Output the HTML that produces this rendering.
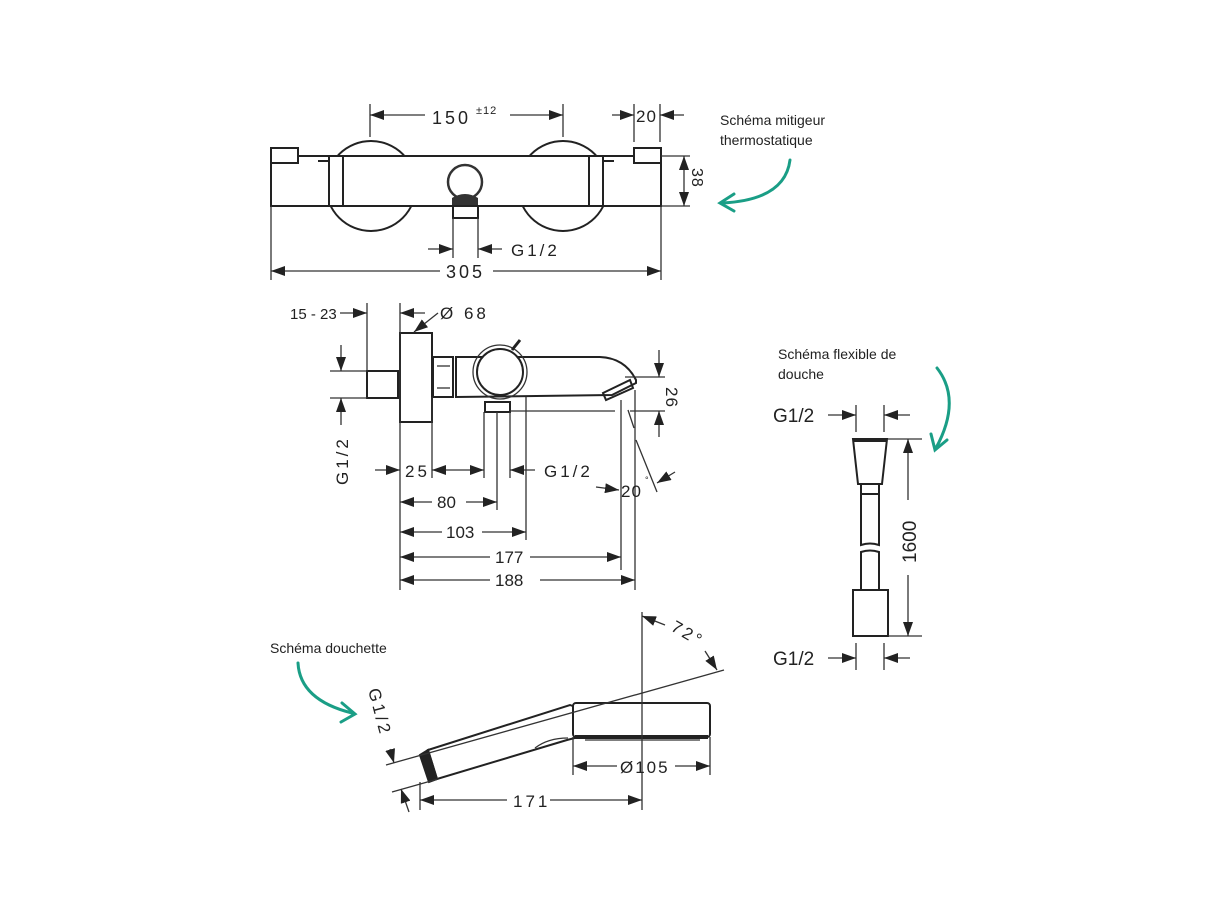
<!DOCTYPE html>
<html><head><meta charset="utf-8"><style>
body{margin:0;background:#fff;}
svg{display:block;font-family:"Liberation Sans",sans-serif;}
.l{stroke:#222;stroke-width:2;fill:none}
.w{stroke:#222;stroke-width:2;fill:#fff}
.t{stroke:#333;stroke-width:1.3;fill:none}
.d{font-size:17px;fill:#222;letter-spacing:3px}
.c{font-size:14px;fill:#222}
.g{stroke:#1a9e86;stroke-width:3;fill:none;stroke-linecap:round}
</style></head><body>
<svg width="1225" height="918" viewBox="0 0 1225 918">
<defs><marker id="a" viewBox="0 0 14 10" refX="14" refY="5" markerWidth="14" markerHeight="10" orient="auto-start-reverse" markerUnits="userSpaceOnUse"><path d="M0,0L14,5L0,10z" fill="#222"/></marker></defs>

<!-- TOP VIEW -->
<circle cx="371" cy="186" r="45" class="l"/><circle cx="563" cy="186" r="45" class="l"/>
<rect x="271" y="156" width="390" height="50" class="w"/>
<rect x="271" y="148" width="27" height="15" class="w"/>
<rect x="634" y="148" width="27" height="15" class="w"/>
<rect x="329" y="156" width="14" height="50" class="l"/><rect x="589" y="156" width="14" height="50" class="l"/>
<line x1="318" y1="161" x2="329" y2="161" class="l"/><line x1="603" y1="161" x2="614" y2="161" class="l"/>
<circle cx="465" cy="182" r="17" class="t" style="stroke-width:2.5"/>
<path d="M452,198 Q465,190 478,198 L478,206 L452,206z" fill="#333"/>
<rect x="453" y="206" width="25" height="12" class="l"/>
<line x1="370" y1="104" x2="370" y2="137" class="t"/><line x1="563" y1="104" x2="563" y2="137" class="t"/>
<line x1="370" y1="115" x2="425" y2="115" class="t" marker-start="url(#a)"/><line x1="510" y1="115" x2="563" y2="115" class="t" marker-end="url(#a)"/>
<text x="432" y="124" class="d" style="font-size:18px">150</text><text x="476" y="114" style="font-size:11px;fill:#222;letter-spacing:1px">±12</text>
<line x1="634" y1="104" x2="634" y2="142" class="t"/><line x1="660" y1="104" x2="660" y2="142" class="t"/>
<line x1="612" y1="115" x2="634" y2="115" class="t" marker-end="url(#a)"/><line x1="684" y1="115" x2="660" y2="115" class="t" marker-end="url(#a)"/>
<text x="636" y="122" class="d" style="letter-spacing:1px">20</text>
<line x1="661" y1="156" x2="690" y2="156" class="t"/><line x1="661" y1="206" x2="690" y2="206" class="t"/>
<line x1="684" y1="156" x2="684" y2="206" class="t" marker-start="url(#a)" marker-end="url(#a)"/>
<text transform="translate(692,168) rotate(90)" class="d" style="letter-spacing:1px;font-size:16px">38</text>
<line x1="271" y1="206" x2="271" y2="280" class="t"/><line x1="661" y1="206" x2="661" y2="280" class="t"/>
<line x1="271" y1="271" x2="440" y2="271" class="t" marker-start="url(#a)"/><line x1="493" y1="271" x2="661" y2="271" class="t" marker-end="url(#a)"/>
<text x="446" y="278" class="d" style="font-size:18px">305</text>
<line x1="453" y1="218" x2="453" y2="258" class="t"/><line x1="478" y1="218" x2="478" y2="258" class="t"/>
<line x1="428" y1="249" x2="453" y2="249" class="t" marker-end="url(#a)"/><line x1="502" y1="249" x2="478" y2="249" class="t" marker-end="url(#a)"/>
<text x="511" y="256" class="d">G1/2</text>
<text x="720" y="125" class="c">Schéma mitigeur</text><text x="720" y="145" class="c">thermostatique</text>
<path d="M790,160 Q785,200 722,203" class="g"/><path d="M734,194 L720,203 L734,211" class="g"/>

<!-- SIDE VIEW -->
<rect x="367" y="371" width="31" height="27" class="l"/>
<rect x="400" y="333" width="32" height="89" class="w"/>
<rect x="433" y="357" width="20" height="40" class="l"/><line x1="437" y1="366" x2="450" y2="366" class="t"/><line x1="437" y1="388" x2="450" y2="388" class="t"/>
<path d="M456,357 L600,357 Q625,358 636,380 L636,383 L612,395 L456,397z" class="l"/>
<path d="M603,393 L630,380 L633,388 L606,400z" class="l"/>
<circle cx="500" cy="372" r="23" class="w"/><circle cx="500" cy="372" r="27" class="t"/>
<line x1="512" y1="350" x2="520" y2="340" class="l" style="stroke-width:3"/>
<rect x="485" y="402" width="25" height="10" class="l"/>
<line x1="340" y1="313" x2="367" y2="313" class="t" marker-end="url(#a)"/><text x="290" y="319" style="font-size:15px;fill:#222">15 - 23</text>
<line x1="367" y1="303" x2="367" y2="371" class="t"/><line x1="400" y1="303" x2="400" y2="590" class="t"/>
<line x1="425" y1="313" x2="400" y2="313" class="t" marker-end="url(#a)"/>
<line x1="438" y1="313" x2="414" y2="332" class="t" marker-end="url(#a)"/>
<text x="440" y="319" class="d">Ø 68</text>
<line x1="330" y1="371" x2="367" y2="371" class="t"/><line x1="330" y1="398" x2="367" y2="398" class="t"/>
<line x1="341" y1="345" x2="341" y2="371" class="t" marker-end="url(#a)"/><line x1="341" y1="425" x2="341" y2="398" class="t" marker-end="url(#a)"/>
<text transform="translate(348,485) rotate(-90)" class="d">G1/2</text>
<line x1="432" y1="397" x2="432" y2="478" class="t"/><line x1="484" y1="412" x2="484" y2="478" class="t"/>
<line x1="497" y1="412" x2="497" y2="510" class="t"/><line x1="510" y1="412" x2="510" y2="478" class="t"/>
<line x1="526" y1="397" x2="526" y2="540" class="t"/><line x1="621" y1="400" x2="621" y2="570" class="t"/>
<line x1="635" y1="390" x2="635" y2="590" class="t"/>
<line x1="510" y1="411" x2="615" y2="411" class="t"/><line x1="630" y1="411" x2="665" y2="411" class="t"/><line x1="625" y1="377" x2="665" y2="377" class="t"/>
<line x1="659" y1="350" x2="659" y2="377" class="t" marker-end="url(#a)"/><line x1="659" y1="437" x2="659" y2="411" class="t" marker-end="url(#a)"/>
<text transform="translate(666,387) rotate(90)" class="d" style="letter-spacing:1px">26</text>
<line x1="375" y1="470" x2="400" y2="470" class="t" marker-end="url(#a)"/><text x="405" y="477" class="d">25</text>
<line x1="432" y1="470" x2="484" y2="470" class="t" marker-start="url(#a)" marker-end="url(#a)"/>
<line x1="535" y1="470" x2="510" y2="470" class="t" marker-end="url(#a)"/><text x="544" y="477" class="d">G1/2</text>
<line x1="400" y1="502" x2="432" y2="502" class="t" marker-start="url(#a)"/><line x1="466" y1="502" x2="497" y2="502" class="t" marker-end="url(#a)"/><text x="437" y="508" style="font-size:17px;fill:#222">80</text>
<line x1="400" y1="532" x2="442" y2="532" class="t" marker-start="url(#a)"/><line x1="482" y1="532" x2="526" y2="532" class="t" marker-end="url(#a)"/><text x="446" y="538" style="font-size:17px;fill:#222">103</text>
<line x1="400" y1="557" x2="490" y2="557" class="t" marker-start="url(#a)"/><line x1="530" y1="557" x2="621" y2="557" class="t" marker-end="url(#a)"/><text x="495" y="563" style="font-size:17px;fill:#222">177</text>
<line x1="400" y1="580" x2="490" y2="580" class="t" marker-start="url(#a)"/><line x1="540" y1="580" x2="635" y2="580" class="t" marker-end="url(#a)"/><text x="495" y="586" style="font-size:17px;fill:#222">188</text>
<line x1="628" y1="410" x2="634" y2="428" class="t"/><line x1="636" y1="440" x2="657" y2="492" class="t"/>
<line x1="596" y1="487" x2="619" y2="490" class="t" marker-end="url(#a)"/><text x="621" y="497" class="d" style="letter-spacing:1px">20</text><text x="645" y="483" style="font-size:9px;fill:#222">°</text>
<line x1="675" y1="472" x2="657" y2="483" class="t" marker-end="url(#a)"/>

<!-- HOSE -->
<text x="778" y="359" class="c">Schéma flexible de</text><text x="778" y="379" class="c">douche</text>
<path d="M937,368 Q962,400 936,448" class="g"/><path d="M931,434 L935,450 L947,440" class="g"/>
<path d="M853,439 L887,439 L882,484 L858,484z" class="l"/><line x1="853" y1="440" x2="887" y2="440" stroke="#222" stroke-width="4"/>
<rect x="861" y="484" width="18" height="10" class="l"/>
<path d="M861,494 L861,545 Q870,542 879,545 L879,494" class="l"/>
<path d="M861,590 L861,552 Q870,549 879,552 L879,590" class="l"/>
<rect x="853" y="590" width="35" height="46" class="l"/>
<line x1="856" y1="405" x2="856" y2="432" class="t"/><line x1="884" y1="405" x2="884" y2="432" class="t"/>
<line x1="828" y1="415" x2="856" y2="415" class="t" marker-end="url(#a)"/><line x1="910" y1="415" x2="884" y2="415" class="t" marker-end="url(#a)"/>
<text x="773" y="422" style="font-size:19px;fill:#222">G1/2</text>
<line x1="856" y1="643" x2="856" y2="670" class="t"/><line x1="884" y1="643" x2="884" y2="670" class="t"/>
<line x1="828" y1="658" x2="856" y2="658" class="t" marker-end="url(#a)"/><line x1="910" y1="658" x2="884" y2="658" class="t" marker-end="url(#a)"/>
<text x="773" y="665" style="font-size:19px;fill:#222">G1/2</text>
<line x1="888" y1="439" x2="922" y2="439" class="t"/><line x1="888" y1="636" x2="922" y2="636" class="t"/>
<line x1="908" y1="500" x2="908" y2="439" class="t" marker-end="url(#a)"/><line x1="908" y1="575" x2="908" y2="636" class="t" marker-end="url(#a)"/>
<text transform="translate(916,563) rotate(-90)" style="font-size:19px;fill:#222">1600</text>

<!-- SHOWER HEAD -->
<text x="270" y="653" class="c">Schéma douchette</text>
<path d="M298,663 Q300,700 352,713" class="g"/><path d="M342,703 L355,714 L341,722" class="g"/>
<path d="M428,750 L570,705 L578,708 L575,738 L567,740 L437,779z" class="w"/>
<path d="M420,755 L428,750 L437,779 L429,782z" fill="#222" stroke="#222" stroke-width="2"/>
<path d="M535,748 Q548,738 568,738" class="t"/>
<rect x="573" y="703" width="137" height="34" rx="3" class="w"/>
<line x1="575" y1="737" x2="708" y2="737" stroke="#222" stroke-width="4"/>
<path d="M585,740 L700,740" class="t"/>
<line x1="386" y1="765" x2="724" y2="670" class="t"/><line x1="392" y1="792" x2="438" y2="779" class="t"/>
<line x1="642" y1="612" x2="642" y2="810" class="t"/>
<line x1="665" y1="625" x2="642" y2="616" class="t" marker-end="url(#a)"/><line x1="705" y1="651" x2="717" y2="670" class="t" marker-end="url(#a)"/>
<text transform="translate(670,630) rotate(30)" class="d">72°</text>
<text transform="translate(368,690) rotate(75)" class="d">G1/2</text>
<line x1="390" y1="749" x2="394" y2="763" class="t" marker-end="url(#a)"/>
<line x1="409" y1="812" x2="401" y2="789" class="t" marker-end="url(#a)"/>
<line x1="420" y1="782" x2="420" y2="810" class="t"/>
<line x1="420" y1="800" x2="507" y2="800" class="t" marker-start="url(#a)"/><line x1="550" y1="800" x2="642" y2="800" class="t" marker-end="url(#a)"/>
<text x="513" y="807" class="d">171</text>
<line x1="573" y1="737" x2="573" y2="775" class="t"/><line x1="710" y1="737" x2="710" y2="775" class="t"/>
<line x1="573" y1="766" x2="617" y2="766" class="t" marker-start="url(#a)"/><line x1="675" y1="766" x2="710" y2="766" class="t" marker-end="url(#a)"/>
<text x="620" y="773" class="d" style="letter-spacing:2px">Ø105</text>
</svg>
</body></html>
